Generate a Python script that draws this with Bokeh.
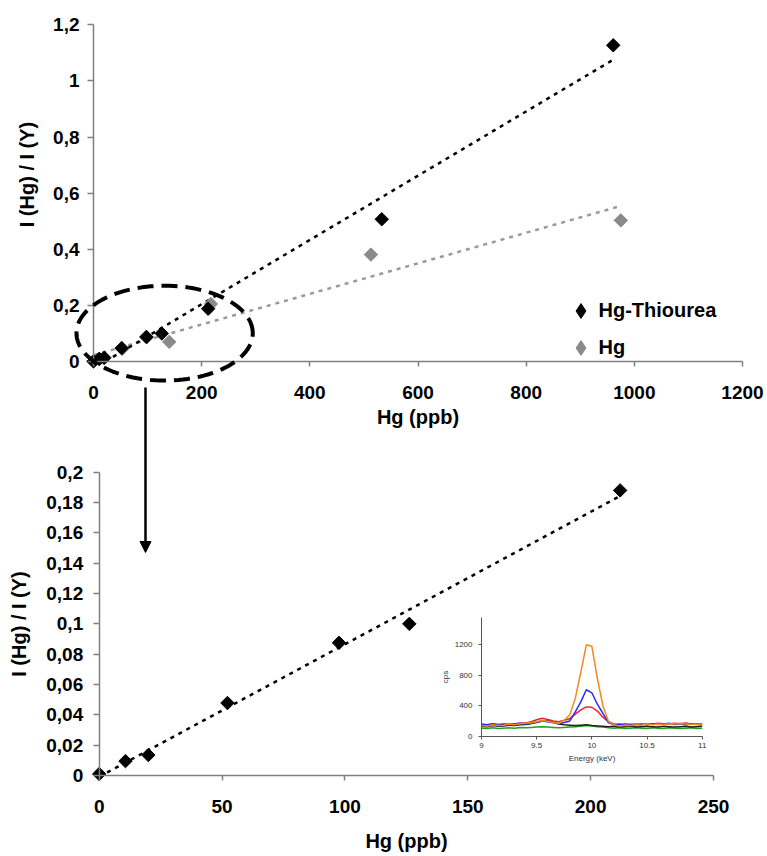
import numpy as np
from bokeh.plotting import figure
from bokeh.models import (FixedTicker, CustomJSTickFormatter, Legend, LegendItem,
                          PolyAnnotation, Arrow, NormalHead, Range1d, LinearAxis, Label)
from bokeh.embed import file_html
from bokeh.resources import INLINE

# ---------------- data ----------------
# Hg-Thiourea (low range, also shown in the zoomed chart)
thio_low_x = [0, 10.7, 20, 52.2, 97.6, 126.2, 212]
thio_low_y = [0.001, 0.0095, 0.0135, 0.0478, 0.0875, 0.100, 0.188]
# Hg-Thiourea (high range)
thio_high_x = [533, 961]
thio_high_y = [0.507, 1.127]
# Hg without thiourea
hg_x = [0, 10, 19, 53, 99, 140, 217, 513, 975]
hg_y = [0.0, 0.008, 0.012, 0.045, 0.086, 0.070, 0.205, 0.381, 0.503]

top_x_ticks = [0, 200, 400, 600, 800, 1000, 1200]
top_y_ticks = [0, 0.2, 0.4, 0.6, 0.8, 1.0, 1.2]
bot_x_ticks = [0, 50, 100, 150, 200, 250]
bot_y_ticks = [0, 0.02, 0.04, 0.06, 0.08, 0.1, 0.12, 0.14, 0.16, 0.18, 0.2]

# inset XRF spectra
energy = [9.00, 9.05, 9.10, 9.15, 9.20, 9.25, 9.30, 9.35, 9.40, 9.45, 9.50, 9.55, 9.60, 9.65,
          9.70, 9.75, 9.80, 9.85, 9.90, 9.95, 10.00, 10.05, 10.10, 10.15, 10.20, 10.25, 10.30,
          10.35, 10.40, 10.45, 10.50, 10.55, 10.60, 10.65, 10.70, 10.75, 10.80, 10.85, 10.90,
          10.95, 11.00]
spec_orange = [140, 130, 150, 140, 145, 160, 150, 165, 170, 175, 190, 205, 195, 180, 170, 210,
               280, 500, 840, 1200, 1180, 760, 400, 195, 150, 135, 145, 140, 150, 145, 160, 150,
               160, 155, 165, 160, 170, 160, 155, 160, 150]
spec_blue = [160, 150, 165, 155, 160, 150, 165, 170, 160, 175, 185, 200, 190, 175, 165, 180, 200,
             320, 450, 610, 570, 420, 300, 180, 150, 160, 145, 155, 150, 160, 150, 165, 155, 160,
             170, 155, 165, 150, 160, 155, 150]
spec_red = [150, 145, 160, 150, 155, 165, 160, 170, 175, 190, 215, 235, 220, 200, 190, 210, 230,
            290, 345, 385, 380, 330, 250, 190, 160, 150, 165, 155, 160, 150, 165, 160, 170, 165,
            160, 170, 165, 175, 160, 165, 160]
spec_black = [130, 125, 140, 130, 135, 145, 140, 150, 155, 165, 180, 200, 205, 185, 160, 150, 145,
              140, 145, 150, 140, 135, 130, 125, 130, 120, 125, 130, 120, 125, 130, 125, 120, 130,
              125, 120, 125, 130, 120, 125, 130]
spec_green = [105, 100, 110, 100, 105, 110, 105, 115, 110, 115, 120, 125, 120, 115, 110, 115, 120,
              125, 130, 140, 135, 125, 120, 110, 105, 110, 100, 105, 110, 105, 100, 110, 105, 100,
              110, 105, 100, 105, 110, 100, 105]
inset_x_ticks = [9, 9.5, 10, 10.5, 11]
inset_y_ticks = [0, 400, 800, 1200]

FONT = "Liberation Sans"
fmt_code = """
let s = tick.toFixed(2);
s = s.replace(/0+$/, '').replace(/\\.$/, '');
return s.replace('.', ',');
"""

# ---------------- layout (page pixels) ----------------
W, H = 767, 856
L, T = 0, 0
R, B = L + W, T + H


def lin(v0, p0, v1, p1):
    k = (v1 - v0) / (p1 - p0)
    return lambda px: v0 + (px - p0) * k


# pixel anchors of each coordinate system
top_x = lin(0, 93, 1200, 742)
top_y = lin(0, 361, 1.2, 24.3)
bot_x = lin(0, 98.7, 250, 713)
bot_y = lin(0, 775, 0.2, 471.7)
ins_x = lin(9, 481, 11, 701.7)
ins_y = lin(0, 735.7, 1200, 644.3)

p = figure(width=W, height=H, x_range=Range1d(top_x(L), top_x(R)),
           y_range=Range1d(top_y(B), top_y(T)), output_backend="svg",
           toolbar_location=None, title=None, min_border=0,
           min_border_left=0, min_border_right=0, min_border_top=0, min_border_bottom=0)
p.extra_x_ranges = {"bx": Range1d(bot_x(L), bot_x(R)), "ix": Range1d(ins_x(L), ins_x(R))}
p.extra_y_ranges = {"by": Range1d(bot_y(B), bot_y(T)), "iy": Range1d(ins_y(B), ins_y(T))}
p.outline_line_color = None
p.grid.visible = False
p.background_fill_color = "white"
p.border_fill_color = "white"


def style_main(xax, yax, xticks, yticks, xstand, ystand, xlstand, ylstand, ylabel=True):
    for ax in (xax, yax):
        ax.axis_line_color = "#808080"
        ax.axis_line_width = 1.5
        ax.major_tick_line_color = "#808080"
        ax.major_tick_line_width = 1.5
        ax.minor_tick_line_color = None
        ax.major_tick_in = 0
        ax.major_label_text_font = FONT
        ax.major_label_text_font_style = "bold"
        ax.major_label_text_font_size = "19px"
        ax.major_label_text_color = "black"
        ax.axis_label_text_font = FONT
        ax.axis_label_text_font_style = "bold"
        ax.axis_label_text_font_size = "20px"
        ax.axis_label_text_color = "black"
        ax.formatter = CustomJSTickFormatter(code=fmt_code)
    xax.ticker = FixedTicker(ticks=xticks)
    yax.ticker = FixedTicker(ticks=yticks)
    xax.fixed_location = 0
    yax.fixed_location = 0
    xax.bounds = (xticks[0], xticks[-1])
    yax.bounds = (yticks[0], yticks[-1])
    xax.major_tick_out = 5
    yax.major_tick_out = 6
    xax.major_label_standoff = xstand
    yax.major_label_standoff = ystand
    xax.axis_label_standoff = xlstand
    yax.axis_label_standoff = ylstand
    xax.axis_label = "Hg (ppb)"
    if ylabel:
        yax.axis_label = "I (Hg) / I (Y)"


# ---------------- top chart ----------------
style_main(p.xaxis[0], p.yaxis[0], top_x_ticks, top_y_ticks, 19, 8, 4, 14, ylabel=False)
p.add_layout(Label(x=top_x(26), y=top_y(174), text="I (Hg) / I (Y)", angle=np.pi / 2,
                   text_align="center", text_baseline="middle", text_font=FONT,
                   text_font_style="bold", text_font_size="20px", text_color="black"))

thio_x = thio_low_x + thio_high_x
thio_y = thio_low_y + thio_high_y
m_t, b_t = np.polyfit(thio_x, thio_y, 1)
m_h, b_h = np.polyfit(hg_x, hg_y, 1)
tx = np.array([max(min(thio_x), -b_t / m_t), max(thio_x)])
hx = np.array([min(hg_x), max(hg_x)])
p.line(hx, m_h * hx + b_h, line_color="#9a9a9a", line_width=2.5, line_dash="4 5")
p.line(tx, m_t * tx + b_t, line_color="black", line_width=2.5, line_dash="4 5")

p.scatter(hg_x, hg_y, marker="square", size=9.5, angle=np.pi / 4,
          fill_color="#8a8a8a", line_color="#8a8a8a")
p.scatter(thio_x, thio_y, marker="square", size=9.5, angle=np.pi / 4,
          fill_color="black", line_color="black")

# legend-only glyphs (hidden, diamond shape for the key)
k_thio = p.scatter(thio_x[:1], thio_y[:1], marker="diamond", fill_color="black",
                   line_color="black", visible=False)
k_hg = p.scatter(hg_x[:1], hg_y[:1], marker="diamond", fill_color="#8a8a8a",
                 line_color="#8a8a8a", visible=False)
legend = Legend(items=[LegendItem(label="Hg-Thiourea", renderers=[k_thio]),
                       LegendItem(label="Hg", renderers=[k_hg])],
                location=(561.5, B - 365.5), padding=0, margin=0, spacing=0,
                glyph_width=37, glyph_height=37, label_height=37, label_standoff=0,
                label_text_font=FONT, label_text_font_style="bold",
                label_text_font_size="20px", label_text_color="black",
                background_fill_alpha=0, border_line_color=None,
                inactive_fill_alpha=0)
p.add_layout(legend)

# dashed ellipse around the low-concentration region
ell_cx, ell_cy, ell_a, ell_b = 131.5, 0.101, 163.0, 0.169
t = np.linspace(0, 2 * np.pi, 121)
p.add_layout(PolyAnnotation(xs=list(ell_cx + ell_a * np.cos(t)), ys=list(ell_cy + ell_b * np.sin(t)),
                            fill_color=None, fill_alpha=0, line_color="black", line_alpha=1,
                            line_width=4, line_dash="16 8"))

# ---------------- bottom chart ----------------
bx_ax = LinearAxis(x_range_name="bx", y_range_name="by")
by_ax = LinearAxis(x_range_name="bx", y_range_name="by")
style_main(bx_ax, by_ax, bot_x_ticks, bot_y_ticks, 19, 10, 14, 14)
p.add_layout(bx_ax, "below")
p.add_layout(by_ax, "left")

m_l, b_l = np.polyfit(thio_low_x, thio_low_y, 1)
lx = np.array([min(thio_low_x), max(thio_low_x)])
p.line(lx, m_l * lx + b_l, line_color="black", line_width=2.5, line_dash="4 5",
       x_range_name="bx", y_range_name="by")
p.scatter(thio_low_x, thio_low_y, marker="square", size=9.5, angle=np.pi / 4,
          fill_color="black", line_color="black", x_range_name="bx", y_range_name="by")

# arrow from the ellipse down into the zoomed chart
p.add_layout(Arrow(end=NormalHead(size=11, fill_color="black", line_color="black"),
                   x_start=bot_x(145), y_start=bot_y(387), x_end=bot_x(145), y_end=bot_y(552),
                   x_range_name="bx", y_range_name="by",
                   line_color="black", line_width=2.5))

# ---------------- inset spectrum ----------------
for ys, col in ((spec_green, "#22a022"), (spec_black, "#202020"), (spec_red, "#e8242a"),
                (spec_blue, "#2b2bf0"), (spec_orange, "#f5891f")):
    p.line(energy, ys, line_color=col, line_width=1.5, x_range_name="ix", y_range_name="iy")

ax_ix = LinearAxis(x_range_name="ix", y_range_name="iy", fixed_location=0, bounds=(9, 11),
                   ticker=FixedTicker(ticks=inset_x_ticks),
                   formatter=CustomJSTickFormatter(code="return String(tick);"),
                   axis_label="Energy (keV)")
ax_iy = LinearAxis(x_range_name="ix", y_range_name="iy", fixed_location=9, bounds=(0, 1560),
                   ticker=FixedTicker(ticks=inset_y_ticks), axis_label="cps")
for ax in (ax_ix, ax_iy):
    ax.axis_line_color = "#555555"
    ax.major_tick_line_color = "#555555"
    ax.minor_tick_line_color = None
    ax.major_tick_in = 0
    ax.major_tick_out = 3
    ax.major_label_text_font = FONT
    ax.major_label_text_font_size = "8px"
    ax.major_label_text_color = "#333333"
    ax.axis_label_text_font = FONT
    ax.axis_label_text_font_size = "8px"
    ax.axis_label_text_font_style = "normal"
    ax.axis_label_text_color = "#333333"
    ax.axis_label_standoff = 2
ax_ix.major_label_standoff = 4
ax_iy.major_label_standoff = 6
p.add_layout(ax_ix, "below")
p.add_layout(ax_iy, "left")

open("out.html", "w").write(file_html(p, INLINE))
